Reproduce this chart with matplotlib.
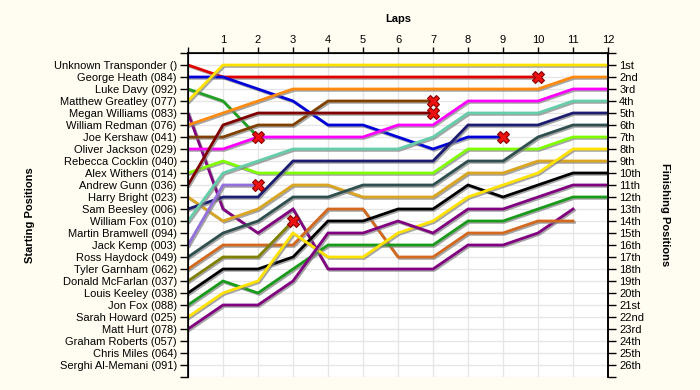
import matplotlib
matplotlib.use("Agg")
import matplotlib.pyplot as plt
import matplotlib.patheffects as pe

plt.rcParams["font.family"] = ["Liberation Sans", "DejaVu Sans"]

# starting grid, top to bottom
drivers = [
    "Unknown Transponder ()", "George Heath (084)", "Luke Davy (092)",
    "Matthew Greatley (077)", "Megan Williams (083)", "William Redman (076)",
    "Joe Kershaw (041)", "Oliver Jackson (029)", "Rebecca Cocklin (040)",
    "Alex Withers (014)", "Andrew Gunn (036)", "Harry Bright (023)",
    "Sam Beesley (006)", "William Fox (010)", "Martin Bramwell (094)",
    "Jack Kemp (003)", "Ross Haydock (049)", "Tyler Garnham (062)",
    "Donald McFarlan (037)", "Louis Keeley (038)", "Jon Fox (088)",
    "Sarah Howard (025)", "Matt Hurt (078)", "Graham Roberts (057)",
    "Chris Miles (064)", "Serghi Al-Memani (091)",
]
finish_labels = ["1st", "2nd", "3rd"] + [f"{i}th" for i in range(4, 21)] + \
    ["21st", "22nd", "23rd", "24th", "25th", "26th"]

# position at each lap (lap 0 = grid)
unknown = [1, 2, 2, 2, 2, 2, 2, 2, 2, 2, 2]
heath = [2, 2, 3, 4, 6, 6, 7, 8, 7, 7]
davy = [3, 4, 7]
greatley = [4, 1, 1, 1, 1, 1, 1, 1, 1, 1, 1, 1, 1]
williams = [5, 13, 15, 13, 18, 18, 18, 18, 16, 16, 15, 13]
redman = [6, 5, 4, 3, 3, 3, 3, 3, 3, 3, 3, 2, 2]
kershaw = [7, 7, 6, 6, 4, 4, 4, 4]
jackson = [8, 8, 7, 7, 7, 7, 6, 6, 4, 4, 4, 3, 3]
withers = [10, 9, 10, 10, 10, 10, 10, 10, 8, 8, 8, 7, 7]
gunn = [11, 6, 5, 5, 5, 5, 5, 5]
bright = [12, 14, 13, 11, 11, 12, 12, 12, 10, 10, 9, 9, 9]
beesley = [13, 12, 12, 9, 9, 9, 9, 9, 6, 6, 6, 5, 5]
wfox = [14, 10, 9, 8, 8, 8, 8, 7, 5, 5, 5, 4, 4]
kemp = [16, 11, 11]
haydock = [17, 15, 14, 12, 12, 11, 11, 11, 9, 9, 7, 6, 6]
garnham = [18, 16, 16, 16, 13, 13, 17, 17, 15, 15, 14, 14]
mcfarlan = [19, 17, 17, 14]
keeley = [20, 18, 18, 17, 14, 14, 13, 13, 11, 12, 11, 10, 10]
jfox = [21, 19, 20, 18, 16, 16, 16, 16, 14, 14, 13, 12, 12]
howard = [22, 20, 19, 15, 17, 17, 15, 14, 12, 11, 10, 8, 8]
hurt = [23, 21, 21, 19, 15, 15, 14, 15, 13, 13, 12, 11, 11]

series = [unknown, heath, davy, greatley, williams, redman, kershaw, jackson,
          withers, gunn, bright, beesley, wfox, kemp, haydock, garnham,
          mcfarlan, keeley, jfox, howard, hurt]
colors = ["#e00000", "#0000d8", "#22a022", "#ffe200", "#800080", "#ff8a10",
          "#804000", "#ff00ff", "#80ff00", "#800000", "#daa520", "#1c1c70",
          "#66cdaa", "#9370db", "#2f4f4f", "#d2691e", "#808000", "#000000",
          "#1a9a1a", "#ffe200", "#800080"]
retired = [True, True, True, False, False, False, True, False, False, True,
           False, False, False, True, False, False, True, False, False,
           False, False]

fig = plt.figure(figsize=(7, 3.9), dpi=100, facecolor="#fffdf2")
ax = fig.add_axes([188 / 700, 13 / 390, 420 / 700, 324 / 390])
ax.set_facecolor("white")

shadow = [pe.SimpleLineShadow(offset=(1, -1), shadow_color="gray", alpha=0.7),
          pe.Normal()]
for pos, col, out in zip(series, colors, retired):
    laps = list(range(len(pos)))
    ax.plot(laps, pos, color=col, lw=2, path_effects=shadow, zorder=3,
            solid_joinstyle="miter")
    if out:
        ax.plot(laps[-1], pos[-1], marker="X", ms=9, color="#ee1111",
                mec="#8a0000", mew=0.8, zorder=5)

ax.set_xlim(0, 12)
ax.set_ylim(27, 0)
ax.set_xticks(range(13))
ax.set_xticklabels([""] + [str(i) for i in range(1, 13)], fontsize=8)
ax.set_yticks(range(28))
ax.set_yticklabels([""] + drivers + [""], fontsize=8)
ax.xaxis.tick_top()
ax.tick_params(axis="x", length=4, width=1, pad=2)
ax.tick_params(axis="y", length=6, width=1, pad=2)
ax.grid(True, color="#e6e6e6", lw=1)
ax.set_axisbelow(True)
for s in ["left", "top", "right"]:
    ax.spines[s].set_linewidth(1.2)
ax.spines["bottom"].set_visible(False)

ax2 = ax.twinx()
ax2.set_ylim(27, 0)
ax2.set_yticks(range(28))
ax2.set_yticklabels([""] + finish_labels + [""], fontsize=8)
ax2.tick_params(axis="y", length=6, width=1, pad=2)
ax2.spines["bottom"].set_visible(False)
ax2.spines["right"].set_linewidth(1.2)

fig.text(398 / 700, 1 - 19 / 390, "Laps", ha="center", va="center",
         fontsize=8, fontweight="bold")
fig.text(30 / 700, 1 - 215 / 390, "Starting Positions", ha="center",
         va="center", rotation=90, fontsize=8, fontweight="bold")
fig.text(665 / 700, 1 - 215 / 390, "Finishing Positions", ha="center",
         va="center", rotation=-90, fontsize=8, fontweight="bold")

fig.savefig("out.png", dpi=100, facecolor=fig.get_facecolor())
